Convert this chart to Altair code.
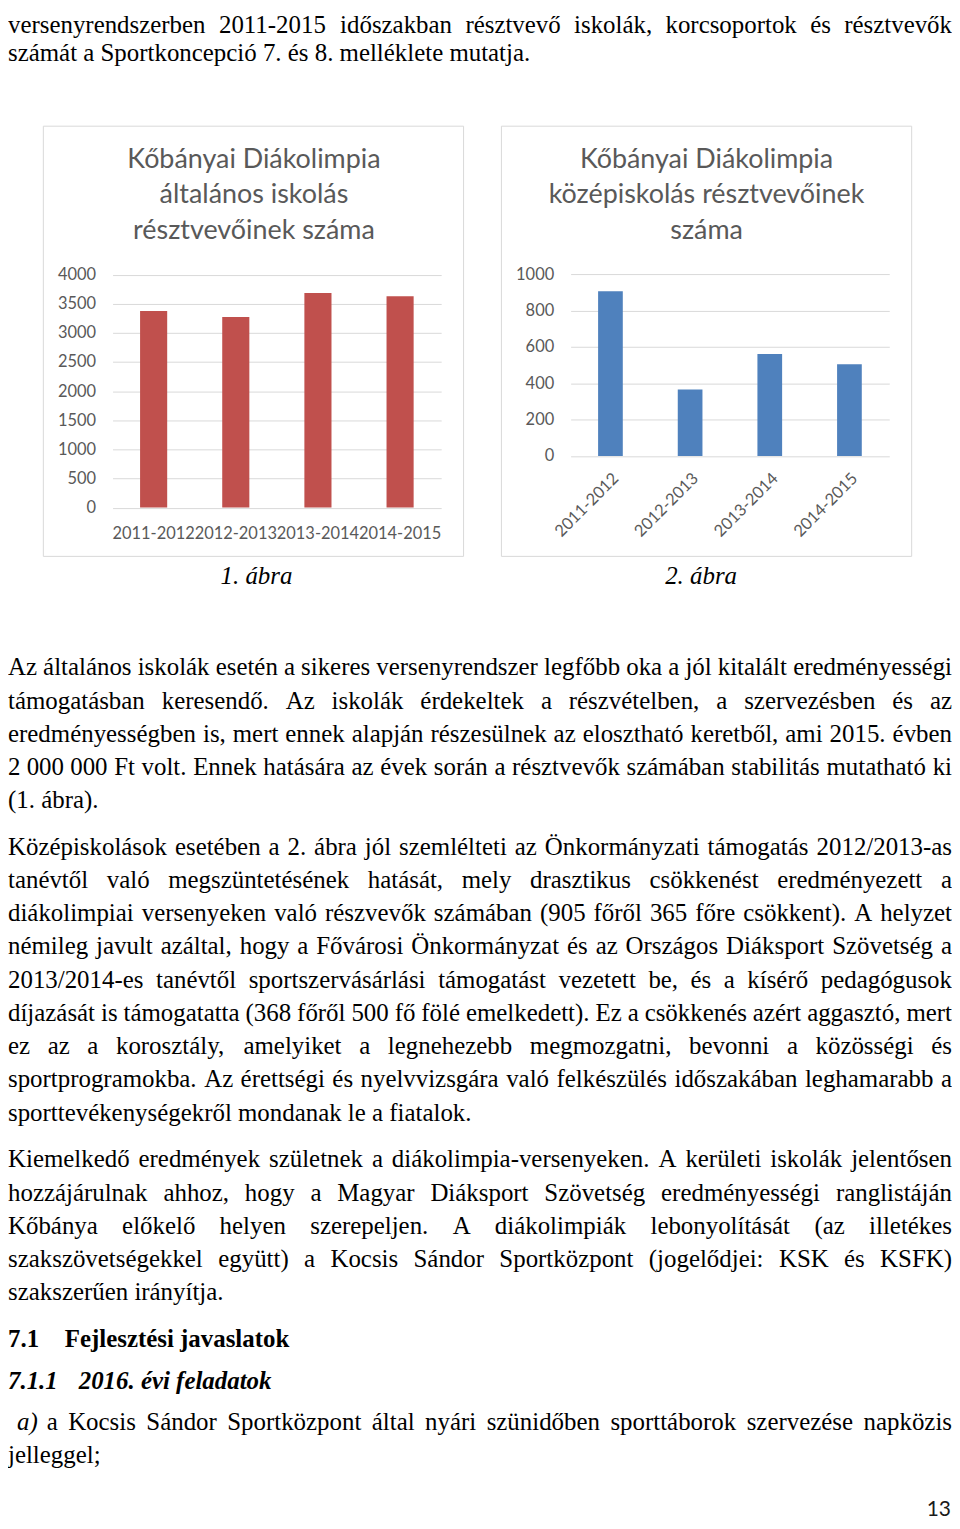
import unicodedata
import altair as alt
import pandas as pd

# ---------------- data ----------------
seasons = ["2011-2012", "2012-2013", "2013-2014", "2014-2015"]
primary_participants = [3375, 3270, 3685, 3630]
secondary_participants = [905, 365, 560, 505]
primary_ticks = [0, 500, 1000, 1500, 2000, 2500, 3000, 3500, 4000]
secondary_ticks = [0, 200, 400, 600, 800, 1000]

title_primary = ["Kőbányai Diákolimpia", "általános iskolás", "résztvevőinek száma"]
title_secondary = ["Kőbányai Diákolimpia", "középiskolás résztvevőinek", "száma"]
captions = ["1. ábra", "2. ábra"]
page_number = ["13"]

intro_lines = [
    "versenyrendszerben 2011-2015 időszakban résztvevő iskolák, korcsoportok és résztvevők",
    "számát a Sportkoncepció 7. és 8. melléklete mutatja.",
]
para1_lines = [
    "Az általános iskolák esetén a sikeres versenyrendszer legfőbb oka a jól kitalált eredményességi",
    "támogatásban keresendő. Az iskolák érdekeltek a részvételben, a szervezésben és az",
    "eredményességben is, mert ennek alapján részesülnek az elosztható keretből, ami 2015. évben",
    "2\u00a0000\u00a0000 Ft volt. Ennek hatására az évek során a résztvevők számában stabilitás mutatható ki",
    "(1. ábra).",
]
para2_lines = [
    "Középiskolások esetében a 2. ábra jól szemlélteti az Önkormányzati támogatás 2012/2013-as",
    "tanévtől való megszüntetésének hatását, mely drasztikus csökkenést eredményezett a",
    "diákolimpiai versenyeken való részvevők számában (905 főről 365 főre csökkent). A helyzet",
    "némileg javult azáltal, hogy a Fővárosi Önkormányzat és az Országos Diáksport Szövetség a",
    "2013/2014-es tanévtől sportszervásárlási támogatást vezetett be, és a kísérő pedagógusok",
    "díjazását is támogatatta (368 főről 500 fő fölé emelkedett). Ez a csökkenés azért aggasztó, mert",
    "ez az a korosztály, amelyiket a legnehezebb megmozgatni, bevonni a közösségi és",
    "sportprogramokba. Az érettségi és nyelvvizsgára való felkészülés időszakában leghamarabb a",
    "sporttevékenységekről mondanak le a fiatalok.",
]
para3_lines = [
    "Kiemelkedő eredmények születnek a diákolimpia-versenyeken. A kerületi iskolák jelentősen",
    "hozzájárulnak ahhoz, hogy a Magyar Diáksport Szövetség eredményességi ranglistáján",
    "Kőbánya előkelő helyen szerepeljen. A diákolimpiák lebonyolítását (az illetékes",
    "szakszövetségekkel együtt) a Kocsis Sándor Sportközpont (jogelődjei: KSK és KSFK)",
    "szakszerűen irányítja.",
]
heading1 = ["7.1", "Fejlesztési javaslatok"]
heading2 = ["7.1.1", "2016. évi feladatok"]
item_marker = "a)"
item_lines = [
    "a Kocsis Sándor Sportközpont által nyári szünidőben sporttáborok szervezése napközis",
    "jelleggel;",
]

# ---------------- page layout ----------------
W, H = 948, 1512
RIGHT = 948.0
FS = 25.0
LINE = 33.4

TIMES_W = {" ": 250, "\u00a0": 250, "!": 333, "(": 333, ")": 333, ",": 250, "-": 333,
           ".": 250, "/": 278, ":": 278, ";": 278, "?": 444,
           "A": 722, "B": 667, "C": 667, "D": 722, "E": 611, "F": 556, "G": 722, "H": 722,
           "I": 333, "J": 389, "K": 722, "L": 611, "M": 889, "N": 722, "O": 722, "P": 556,
           "Q": 722, "R": 667, "S": 556, "T": 611, "U": 722, "V": 722, "W": 944, "X": 722,
           "Y": 722, "Z": 611,
           "a": 444, "b": 500, "c": 444, "d": 500, "e": 444, "f": 333, "g": 500, "h": 500,
           "i": 278, "j": 278, "k": 500, "l": 278, "m": 778, "n": 500, "o": 500, "p": 500,
           "q": 500, "r": 333, "s": 389, "t": 278, "u": 500, "v": 500, "w": 722, "x": 500,
           "y": 500, "z": 444}
for d in "0123456789":
    TIMES_W[d] = 500


def char_w(ch):
    if ch in TIMES_W:
        return TIMES_W[ch]
    base = unicodedata.normalize("NFD", ch)[0]
    return TIMES_W.get(base, 500)


def text_w(s):
    return sum(char_w(c) for c in s) * FS / 1000.0


rows = []


def add_line(text, y, left=0.0, justify=True, styles=None):
    words = text.split(" ")
    if not justify or len(words) < 2:
        rows.append({"word": text, "x": left, "y": y, "style": "normal"})
        return
    widths = [text_w(w) for w in words]
    gap = (RIGHT - left - sum(widths)) / (len(words) - 1)
    x = left
    for i, w in enumerate(words):
        st = styles[i] if styles else "normal"
        if i == len(words) - 1:
            rows.append({"word": w, "x": RIGHT, "y": y, "style": st + "_r"})
        else:
            rows.append({"word": w, "x": x, "y": y, "style": st})
        x += widths[i] + gap


def add_paragraph(lines, first):
    for i, t in enumerate(lines):
        add_line(t, first + i * LINE, justify=(i < len(lines) - 1))


add_line(intro_lines[0], 22, justify=True)
add_line(intro_lines[1], 50, justify=False)
add_paragraph(para1_lines, 667)
add_paragraph(para2_lines, 847)
add_paragraph(para3_lines, 1161)
rows.append({"word": heading1[0], "x": 0, "y": 1341, "style": "bold"})
rows.append({"word": heading1[1], "x": 57, "y": 1341, "style": "bold"})
rows.append({"word": heading2[0], "x": 0, "y": 1384, "style": "bolditalic"})
rows.append({"word": heading2[1], "x": 71, "y": 1384, "style": "bolditalic"})
item_words = (item_marker + " " + item_lines[0])
add_line(item_words, 1425, left=9, justify=True,
         styles=["italic"] + ["normal"] * len(item_lines[0].split(" ")))
add_line(item_lines[1], 1425 + LINE, justify=False)

words = pd.DataFrame(rows)

GRAY_TXT = "#595959"
GRID = "#D9D9D9"


def text_layer(style, align="left", **kw):
    return alt.Chart(words).transform_filter(alt.datum.style == style).mark_text(
        align=align, baseline="alphabetic", font="Liberation Serif", fontSize=FS,
        color="#000000", **kw
    ).encode(
        x=alt.X("x:Q", scale=None, axis=None),
        y=alt.Y("y:Q", scale=None, axis=None),
        text="word:N",
    )


normal_txt = text_layer("normal")
normal_r_txt = text_layer("normal_r", align="right")
italic_txt = text_layer("italic", fontStyle="italic")
bold_txt = text_layer("bold", fontWeight="bold")
bolditalic_txt = text_layer("bolditalic", fontWeight="bold", fontStyle="italic")

# chart frames
one = pd.DataFrame({"k": [0]})
box_left = alt.Chart(one).mark_rect(fillOpacity=0, stroke=GRID, strokeWidth=1).encode(
    x=alt.value(35.5), x2=alt.value(457.5), y=alt.value(115.5), y2=alt.value(547.5))
box_right = alt.Chart(one).mark_rect(fillOpacity=0, stroke=GRID, strokeWidth=1).encode(
    x=alt.value(495.5), x2=alt.value(907.5), y=alt.value(115.5), y2=alt.value(547.5))

# chart titles
title_df = pd.DataFrame(
    [{"t": t, "cx": 247, "cy": 157 + 36 * i} for i, t in enumerate(title_primary)]
    + [{"t": t, "cx": 701.5, "cy": 157 + 36 * i} for i, t in enumerate(title_secondary)]
)
titles = alt.Chart(title_df).mark_text(
    align="center", baseline="alphabetic", font="Lato", fontSize=27, color=GRAY_TXT
).encode(x=alt.X("cx:Q", scale=None, axis=None), y=alt.Y("cy:Q", scale=None, axis=None), text="t:N")

cap_df = pd.DataFrame({"c": captions, "cx": [249.5, 696], "cy": [575, 575]})
caps = alt.Chart(cap_df).mark_text(
    align="center", baseline="alphabetic", font="Liberation Serif", fontSize=FS,
    fontStyle="italic", color="#000000"
).encode(x=alt.X("cx:Q", scale=None, axis=None), y=alt.Y("cy:Q", scale=None, axis=None), text="c:N")

pn = alt.Chart(pd.DataFrame({"p": page_number})).mark_text(
    align="right", baseline="alphabetic", font="Lato", fontSize=21, color="#1a1a1a"
).encode(x=alt.value(947), y=alt.value(1511), text="p:N")

common = dict(labelFont="Lato", labelFontSize=16.5, labelColor=GRAY_TXT,
              ticks=False, tickSize=0, domain=False, title=None)

prim = pd.DataFrame({"season": seasons, "participants": primary_participants})
sec = pd.DataFrame({"season": seasons, "participants": secondary_participants})

L_ZERO, L_TOP = 498.5, 264.5
R_ZERO, R_TOP = 446.7, 264.0

left_bars = alt.Chart(prim).mark_bar(color="#C0504D").encode(
    x=alt.X("season:N", sort=seasons,
            scale=alt.Scale(range=[105, 435], paddingInner=0.67, paddingOuter=0.335),
            axis=alt.Axis(orient="bottom", offset=L_ZERO - H, labelAngle=0, labelPadding=18,
                          labelOverlap=False, grid=False, **common)),
    y=alt.Y("participants:Q",
            scale=alt.Scale(domain=[0, 4000], range=[L_ZERO, L_TOP], nice=False, zero=True),
            axis=alt.Axis(orient="left", offset=-105, values=primary_ticks, format="d",
                          grid=True, gridColor=GRID, gridWidth=1, labelPadding=17, **common)),
)

right_bars = alt.Chart(sec).mark_bar(color="#4F81BD").encode(
    x=alt.X("season:N", sort=seasons,
            scale=alt.Scale(range=[565, 885], paddingInner=0.69, paddingOuter=0.345),
            axis=alt.Axis(orient="bottom", offset=R_ZERO - H, labelAngle=-45, labelPadding=14,
                          labelOverlap=False, grid=False, **common)),
    y=alt.Y("participants:Q",
            scale=alt.Scale(domain=[0, 1000], range=[R_ZERO, R_TOP], nice=False, zero=True),
            axis=alt.Axis(orient="left", offset=-565, values=secondary_ticks, format="d",
                          grid=True, gridColor=GRID, gridWidth=1, labelPadding=17, **common)),
)

chart = alt.layer(
    box_left, box_right, left_bars, right_bars, titles, caps,
    normal_txt, normal_r_txt, italic_txt, bold_txt, bolditalic_txt, pn,
).resolve_scale(
    x="independent", y="independent"
).resolve_axis(
    x="independent", y="independent"
).properties(
    width=W, height=H, autosize=alt.AutoSizeParams(type="none"), padding=0,
).configure(background="white").configure_view(stroke=None)

chart.save("out.html", embed_options={"renderer": "svg", "actions": False})
